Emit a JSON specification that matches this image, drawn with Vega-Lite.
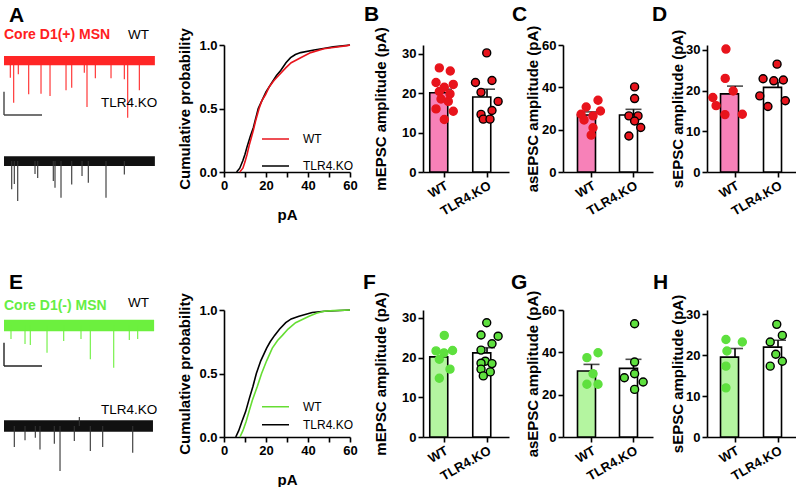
{
"$schema":"https://vega.github.io/schema/vega-lite/v6.json",
"padding":{"left":3,"top":3,"right":0,"bottom":0},
"background":"white",
"config":{
 "view":{"stroke":null},
 "font":"Liberation Sans",
 "axis":{"domainColor":"#000","domainWidth":1.6,"tickColor":"#000","tickWidth":1.6,"tickSize":5,"labelFont":"Liberation Sans","labelFontWeight":"bold","labelFontSize":13,"labelColor":"#000","labelPadding":2,"titleFont":"Liberation Sans","titleFontWeight":"bold","titleFontSize":15,"titleColor":"#000","grid":false},
 "legend":{"labelFont":"Liberation Sans","labelColor":"#000","labelFontSize":12},
 "title":{"font":"Liberation Sans","fontSize":21,"fontWeight":"bold","color":"#000","anchor":"start","frame":"group","baseline":"alphabetic"}
},
"datasets":{
 "bands":[
  {"row":"top","trace":"WT","t0":0,"t1":3.97,"lo":-4,"hi":4},
  {"row":"top","trace":"KO","t0":0,"t1":3.97,"lo":-4.3,"hi":4.3},
  {"row":"bottom","trace":"WT","t0":0,"t1":3.95,"lo":-5,"hi":5},
  {"row":"bottom","trace":"KO","t0":0,"t1":3.92,"lo":-5,"hi":5}
 ],
 "spikes":[
  {"row":"top","trace":"WT","t":0.166,"peak":-15.0},
  {"row":"top","trace":"WT","t":0.255,"peak":-36.7},
  {"row":"top","trace":"WT","t":0.376,"peak":-12.0},
  {"row":"top","trace":"WT","t":0.650,"peak":-29.4},
  {"row":"top","trace":"WT","t":0.974,"peak":-28.9},
  {"row":"top","trace":"WT","t":1.211,"peak":-30.9},
  {"row":"top","trace":"WT","t":1.632,"peak":-25.9},
  {"row":"top","trace":"WT","t":1.782,"peak":-23.7},
  {"row":"top","trace":"WT","t":2.113,"peak":-10.6},
  {"row":"top","trace":"WT","t":2.184,"peak":-40.4},
  {"row":"top","trace":"WT","t":2.403,"peak":-15.5},
  {"row":"top","trace":"WT","t":2.816,"peak":-15.5},
  {"row":"top","trace":"WT","t":3.166,"peak":-16.3},
  {"row":"top","trace":"WT","t":3.255,"peak":-49.7},
  {"row":"top","trace":"WT","t":3.561,"peak":-25.9},
  {"row":"top","trace":"KO","t":0.203,"peak":-24.6},
  {"row":"top","trace":"KO","t":0.271,"peak":-20.0},
  {"row":"top","trace":"KO","t":0.361,"peak":-34.8},
  {"row":"top","trace":"KO","t":0.816,"peak":-11.3},
  {"row":"top","trace":"KO","t":0.887,"peak":-14.8},
  {"row":"top","trace":"KO","t":1.297,"peak":-17.4},
  {"row":"top","trace":"KO","t":1.342,"peak":-23.2},
  {"row":"top","trace":"KO","t":1.500,"peak":-31.9},
  {"row":"top","trace":"KO","t":1.782,"peak":-20.3},
  {"row":"top","trace":"KO","t":2.053,"peak":-13.0},
  {"row":"top","trace":"KO","t":2.218,"peak":-18.9},
  {"row":"top","trace":"KO","t":2.684,"peak":-31.9},
  {"row":"top","trace":"KO","t":3.166,"peak":-11.6},
  {"row":"bottom","trace":"WT","t":0.184,"peak":-11.7},
  {"row":"bottom","trace":"WT","t":0.553,"peak":-16.1},
  {"row":"bottom","trace":"WT","t":0.692,"peak":-17.0},
  {"row":"bottom","trace":"WT","t":1.132,"peak":-23.7},
  {"row":"bottom","trace":"WT","t":1.571,"peak":-13.5},
  {"row":"bottom","trace":"WT","t":2.026,"peak":-11.7},
  {"row":"bottom","trace":"WT","t":2.271,"peak":-29.4},
  {"row":"bottom","trace":"WT","t":2.887,"peak":-36.7},
  {"row":"bottom","trace":"WT","t":3.297,"peak":-12.6},
  {"row":"bottom","trace":"WT","t":3.518,"peak":-11.7},
  {"row":"bottom","trace":"KO","t":0.271,"peak":-18.3},
  {"row":"bottom","trace":"KO","t":0.553,"peak":-12.4},
  {"row":"bottom","trace":"KO","t":0.824,"peak":-10.2},
  {"row":"bottom","trace":"KO","t":0.947,"peak":-20.3},
  {"row":"bottom","trace":"KO","t":1.324,"peak":-15.4},
  {"row":"bottom","trace":"KO","t":1.474,"peak":-39.1},
  {"row":"bottom","trace":"KO","t":1.850,"peak":-13.0},
  {"row":"bottom","trace":"KO","t":1.982,"peak":7.8},
  {"row":"bottom","trace":"KO","t":2.271,"peak":-21.7},
  {"row":"bottom","trace":"KO","t":2.597,"peak":-18.3},
  {"row":"bottom","trace":"KO","t":3.387,"peak":-23.2}
 ],
 "scalebars":[
  {"row":"top","t0":0,"t1":0,"a":-27.1,"b":-47.4},
  {"row":"top","t0":0,"t1":1,"a":-47.4,"b":-47.4},
  {"row":"bottom","t0":0,"t1":0,"a":-15.0,"b":-35.2},
  {"row":"bottom","t0":0,"t1":1,"a":-35.2,"b":-35.2}
 ],
 "labels":[
  {"row":"top","trace":"WT","kind":"cell","label":"Core D1(+) MSN","t":0,"v":19.1},
  {"row":"top","trace":"WT","kind":"geno","label":"WT","t":3.263,"v":18.4},
  {"row":"top","trace":"KO","kind":"geno","label":"TLR4.KO","t":2.553,"v":47},
  {"row":"bottom","trace":"WT","kind":"cell","label":"Core D1(-) MSN","t":0,"v":13.5},
  {"row":"bottom","trace":"WT","kind":"geno","label":"WT","t":3.263,"v":15.7},
  {"row":"bottom","trace":"KO","kind":"geno","label":"TLR4.KO","t":2.553,"v":10.4}
 ],
 "cdf":[
  {"row":"top","group":"TLR4.KO","pA":6,"p":0},
  {"row":"top","group":"TLR4.KO","pA":7.5,"p":0.03},
  {"row":"top","group":"TLR4.KO","pA":9,"p":0.09},
  {"row":"top","group":"TLR4.KO","pA":10,"p":0.14},
  {"row":"top","group":"TLR4.KO","pA":11,"p":0.2},
  {"row":"top","group":"TLR4.KO","pA":12.5,"p":0.28},
  {"row":"top","group":"TLR4.KO","pA":14,"p":0.35},
  {"row":"top","group":"TLR4.KO","pA":16.3,"p":0.5},
  {"row":"top","group":"TLR4.KO","pA":18,"p":0.56},
  {"row":"top","group":"TLR4.KO","pA":20,"p":0.63},
  {"row":"top","group":"TLR4.KO","pA":23,"p":0.71},
  {"row":"top","group":"TLR4.KO","pA":25,"p":0.76},
  {"row":"top","group":"TLR4.KO","pA":27,"p":0.8},
  {"row":"top","group":"TLR4.KO","pA":29.5,"p":0.86},
  {"row":"top","group":"TLR4.KO","pA":31.7,"p":0.9},
  {"row":"top","group":"TLR4.KO","pA":34,"p":0.925},
  {"row":"top","group":"TLR4.KO","pA":36.5,"p":0.94},
  {"row":"top","group":"TLR4.KO","pA":42.9,"p":0.96},
  {"row":"top","group":"TLR4.KO","pA":48,"p":0.975},
  {"row":"top","group":"TLR4.KO","pA":52,"p":0.985},
  {"row":"top","group":"TLR4.KO","pA":60,"p":1.0},
  {"row":"top","group":"WT","pA":7.5,"p":0},
  {"row":"top","group":"WT","pA":9,"p":0.03},
  {"row":"top","group":"WT","pA":10,"p":0.08},
  {"row":"top","group":"WT","pA":11,"p":0.14},
  {"row":"top","group":"WT","pA":12,"p":0.21},
  {"row":"top","group":"WT","pA":13,"p":0.27},
  {"row":"top","group":"WT","pA":14,"p":0.33},
  {"row":"top","group":"WT","pA":15,"p":0.4},
  {"row":"top","group":"WT","pA":16.7,"p":0.5},
  {"row":"top","group":"WT","pA":18,"p":0.56},
  {"row":"top","group":"WT","pA":19.8,"p":0.61},
  {"row":"top","group":"WT","pA":21.5,"p":0.67},
  {"row":"top","group":"WT","pA":23.8,"p":0.72},
  {"row":"top","group":"WT","pA":26,"p":0.76},
  {"row":"top","group":"WT","pA":29.4,"p":0.82},
  {"row":"top","group":"WT","pA":32,"p":0.86},
  {"row":"top","group":"WT","pA":36.5,"p":0.9},
  {"row":"top","group":"WT","pA":41.3,"p":0.94},
  {"row":"top","group":"WT","pA":47.6,"p":0.97},
  {"row":"top","group":"WT","pA":52,"p":0.98},
  {"row":"top","group":"WT","pA":58.7,"p":0.995},
  {"row":"top","group":"WT","pA":60,"p":1.0},
  {"row":"bottom","group":"TLR4.KO","pA":5.6,"p":0},
  {"row":"bottom","group":"TLR4.KO","pA":7,"p":0.05},
  {"row":"bottom","group":"TLR4.KO","pA":8.5,"p":0.12},
  {"row":"bottom","group":"TLR4.KO","pA":10.3,"p":0.2},
  {"row":"bottom","group":"TLR4.KO","pA":12,"p":0.3},
  {"row":"bottom","group":"TLR4.KO","pA":13.8,"p":0.4},
  {"row":"bottom","group":"TLR4.KO","pA":15.4,"p":0.5},
  {"row":"bottom","group":"TLR4.KO","pA":17.5,"p":0.6},
  {"row":"bottom","group":"TLR4.KO","pA":20.3,"p":0.7},
  {"row":"bottom","group":"TLR4.KO","pA":22,"p":0.75},
  {"row":"bottom","group":"TLR4.KO","pA":24.1,"p":0.8},
  {"row":"bottom","group":"TLR4.KO","pA":26.5,"p":0.85},
  {"row":"bottom","group":"TLR4.KO","pA":29.4,"p":0.9},
  {"row":"bottom","group":"TLR4.KO","pA":32,"p":0.93},
  {"row":"bottom","group":"TLR4.KO","pA":35.7,"p":0.95},
  {"row":"bottom","group":"TLR4.KO","pA":42,"p":0.98},
  {"row":"bottom","group":"TLR4.KO","pA":48,"p":0.99},
  {"row":"bottom","group":"TLR4.KO","pA":60,"p":1.0},
  {"row":"bottom","group":"WT","pA":7.6,"p":0},
  {"row":"bottom","group":"WT","pA":9,"p":0.05},
  {"row":"bottom","group":"WT","pA":10.5,"p":0.12},
  {"row":"bottom","group":"WT","pA":11.9,"p":0.2},
  {"row":"bottom","group":"WT","pA":13.5,"p":0.29},
  {"row":"bottom","group":"WT","pA":15.9,"p":0.4},
  {"row":"bottom","group":"WT","pA":17.9,"p":0.5},
  {"row":"bottom","group":"WT","pA":20.3,"p":0.6},
  {"row":"bottom","group":"WT","pA":23,"p":0.7},
  {"row":"bottom","group":"WT","pA":25.5,"p":0.76},
  {"row":"bottom","group":"WT","pA":27.8,"p":0.8},
  {"row":"bottom","group":"WT","pA":30.5,"p":0.85},
  {"row":"bottom","group":"WT","pA":34.1,"p":0.9},
  {"row":"bottom","group":"WT","pA":40.5,"p":0.95},
  {"row":"bottom","group":"WT","pA":44,"p":0.975},
  {"row":"bottom","group":"WT","pA":47.6,"p":0.99},
  {"row":"bottom","group":"WT","pA":52,"p":0.995},
  {"row":"bottom","group":"WT","pA":60,"p":1.0}
 ],
 "bars":[
  {"panel":"B","group":"WT","mean":20.1,"hi":21.0},
  {"panel":"B","group":"TLR4.KO","mean":19.0,"hi":21.0},
  {"panel":"C","group":"WT","mean":26.9,"hi":28.4},
  {"panel":"C","group":"TLR4.KO","mean":26.9,"hi":29.6},
  {"panel":"D","group":"WT","mean":19.2,"hi":21.1},
  {"panel":"D","group":"TLR4.KO","mean":20.8,"hi":22.0},
  {"panel":"F","group":"WT","mean":20.2,"hi":21.5},
  {"panel":"F","group":"TLR4.KO","mean":21.2,"hi":22.5},
  {"panel":"G","group":"WT","mean":31.2,"hi":34.3},
  {"panel":"G","group":"TLR4.KO","mean":32.4,"hi":36.7},
  {"panel":"H","group":"WT","mean":19.5,"hi":21.6},
  {"panel":"H","group":"TLR4.KO","mean":21.95,"hi":23.6}
 ],
 "dots":[
  {"panel":"B","group":"WT","j":-0.33,"amp":26.4},
  {"panel":"B","group":"WT","j":0.44,"amp":25.6},
  {"panel":"B","group":"WT","j":-0.56,"amp":22.7},
  {"panel":"B","group":"WT","j":0.65,"amp":22.2},
  {"panel":"B","group":"WT","j":0.02,"amp":21.5},
  {"panel":"B","group":"WT","j":-0.33,"amp":20.4},
  {"panel":"B","group":"WT","j":0.42,"amp":19.8},
  {"panel":"B","group":"WT","j":-0.21,"amp":18.5},
  {"panel":"B","group":"WT","j":0.3,"amp":17.9},
  {"panel":"B","group":"WT","j":-0.56,"amp":16.0},
  {"panel":"B","group":"WT","j":0.65,"amp":15.4},
  {"panel":"B","group":"WT","j":0.02,"amp":13.3},
  {"panel":"B","group":"TLR4.KO","j":-0.02,"amp":30.2},
  {"panel":"B","group":"TLR4.KO","j":-0.81,"amp":22.7},
  {"panel":"B","group":"TLR4.KO","j":0.35,"amp":23.2},
  {"panel":"B","group":"TLR4.KO","j":-0.42,"amp":20.2},
  {"panel":"B","group":"TLR4.KO","j":0.78,"amp":17.9},
  {"panel":"B","group":"TLR4.KO","j":-0.42,"amp":14.6},
  {"panel":"B","group":"TLR4.KO","j":0.35,"amp":15.6},
  {"panel":"B","group":"TLR4.KO","j":-0.26,"amp":13.4},
  {"panel":"B","group":"TLR4.KO","j":0.21,"amp":13.4},
  {"panel":"C","group":"WT","j":0.44,"amp":33.9},
  {"panel":"C","group":"WT","j":-0.39,"amp":30.7},
  {"panel":"C","group":"WT","j":0.61,"amp":28.8},
  {"panel":"C","group":"WT","j":-0.75,"amp":27.3},
  {"panel":"C","group":"WT","j":0.09,"amp":26.5},
  {"panel":"C","group":"WT","j":-0.54,"amp":24.6},
  {"panel":"C","group":"WT","j":0.09,"amp":20.9},
  {"panel":"C","group":"WT","j":-0.04,"amp":17.4},
  {"panel":"C","group":"TLR4.KO","j":0.06,"amp":40.2},
  {"panel":"C","group":"TLR4.KO","j":0.06,"amp":34.7},
  {"panel":"C","group":"TLR4.KO","j":-0.34,"amp":26.5},
  {"panel":"C","group":"TLR4.KO","j":0.3,"amp":26.5},
  {"panel":"C","group":"TLR4.KO","j":0.06,"amp":24.1},
  {"panel":"C","group":"TLR4.KO","j":0.49,"amp":21.0},
  {"panel":"C","group":"TLR4.KO","j":-0.34,"amp":17.0},
  {"panel":"D","group":"WT","j":-0.62,"amp":30.2},
  {"panel":"D","group":"WT","j":-0.67,"amp":23.0},
  {"panel":"D","group":"WT","j":-1.54,"amp":18.3},
  {"panel":"D","group":"WT","j":-0.11,"amp":19.9},
  {"panel":"D","group":"WT","j":-1.31,"amp":16.3},
  {"panel":"D","group":"WT","j":-0.69,"amp":14.1},
  {"panel":"D","group":"WT","j":0.53,"amp":14.2},
  {"panel":"D","group":"TLR4.KO","j":-0.05,"amp":26.5},
  {"panel":"D","group":"TLR4.KO","j":-1.03,"amp":22.9},
  {"panel":"D","group":"TLR4.KO","j":-0.28,"amp":22.4},
  {"panel":"D","group":"TLR4.KO","j":0.39,"amp":22.6},
  {"panel":"D","group":"TLR4.KO","j":-1.26,"amp":18.7},
  {"panel":"D","group":"TLR4.KO","j":0.53,"amp":17.5},
  {"panel":"D","group":"TLR4.KO","j":-0.69,"amp":16.1},
  {"panel":"F","group":"WT","j":0.02,"amp":25.6},
  {"panel":"F","group":"WT","j":-0.56,"amp":21.7},
  {"panel":"F","group":"WT","j":0.6,"amp":21.8},
  {"panel":"F","group":"WT","j":0.0,"amp":21.2},
  {"panel":"F","group":"WT","j":-0.33,"amp":19.6},
  {"panel":"F","group":"WT","j":0.42,"amp":17.1},
  {"panel":"F","group":"WT","j":-0.33,"amp":14.8},
  {"panel":"F","group":"TLR4.KO","j":-0.02,"amp":28.8},
  {"panel":"F","group":"TLR4.KO","j":-0.42,"amp":25.7},
  {"panel":"F","group":"TLR4.KO","j":0.78,"amp":25.4},
  {"panel":"F","group":"TLR4.KO","j":0.35,"amp":23.5},
  {"panel":"F","group":"TLR4.KO","j":-0.42,"amp":21.9},
  {"panel":"F","group":"TLR4.KO","j":-0.12,"amp":19.1},
  {"panel":"F","group":"TLR4.KO","j":-0.42,"amp":18.6},
  {"panel":"F","group":"TLR4.KO","j":0.35,"amp":18.5},
  {"panel":"F","group":"TLR4.KO","j":-0.42,"amp":17.1},
  {"panel":"F","group":"TLR4.KO","j":0.23,"amp":16.4},
  {"panel":"F","group":"TLR4.KO","j":-0.26,"amp":15.4},
  {"panel":"G","group":"WT","j":-0.34,"amp":37.5},
  {"panel":"G","group":"WT","j":0.44,"amp":39.8},
  {"panel":"G","group":"WT","j":0.09,"amp":29.9},
  {"panel":"G","group":"WT","j":-0.34,"amp":24.9},
  {"panel":"G","group":"WT","j":0.44,"amp":24.9},
  {"panel":"G","group":"TLR4.KO","j":0.06,"amp":53.5},
  {"panel":"G","group":"TLR4.KO","j":0.06,"amp":35.4},
  {"panel":"G","group":"TLR4.KO","j":-0.66,"amp":28.0},
  {"panel":"G","group":"TLR4.KO","j":0.06,"amp":29.9},
  {"panel":"G","group":"TLR4.KO","j":0.66,"amp":26.0},
  {"panel":"G","group":"TLR4.KO","j":0.06,"amp":22.5},
  {"panel":"H","group":"WT","j":-0.62,"amp":23.8},
  {"panel":"H","group":"WT","j":0.53,"amp":23.2},
  {"panel":"H","group":"WT","j":-0.55,"amp":21.0},
  {"panel":"H","group":"WT","j":-0.62,"amp":17.3},
  {"panel":"H","group":"WT","j":-0.62,"amp":12.0},
  {"panel":"H","group":"TLR4.KO","j":-0.07,"amp":27.5},
  {"panel":"H","group":"TLR4.KO","j":0.32,"amp":24.8},
  {"panel":"H","group":"TLR4.KO","j":-0.53,"amp":23.2},
  {"panel":"H","group":"TLR4.KO","j":-0.14,"amp":20.2},
  {"panel":"H","group":"TLR4.KO","j":0.32,"amp":18.5},
  {"panel":"H","group":"TLR4.KO","j":-0.53,"amp":17.3}
 ]
},
"spacing":265,
"bounds":"flush",
"resolve":{"scale":{"color":"independent","stroke":"independent"}},
"vconcat":[
 {"spacing":73,"bounds":"flush","resolve":{"scale":{"color":"independent","stroke":"independent"}},
  "hconcat":[
   {"width":147,"height":127,
    "title":{"text":"A","dx":5,"offset":1.5},
    "resolve":{"scale":{"y":"independent"}},
    "layer":[
     {"layer":[
       {"data":{"name":"bands"},"transform":[{"filter":"datum.row==='top' && datum.trace==='WT'"}],
        "mark":{"type":"rect","color":"#ff2626"},
        "encoding":{"x":{"field":"t0","type":"quantitative","scale":{"domain":[0,3.868],"nice":false},"axis":null},"x2":{"field":"t1"},
                    "y":{"field":"lo","type":"quantitative","scale":{"domain":[-96.9,13.5],"nice":false},"axis":null},"y2":{"field":"hi"}}},
       {"data":{"name":"spikes"},"transform":[{"filter":"datum.row==='top' && datum.trace==='WT'"}],
        "mark":{"type":"rule","color":"#ff2626","strokeWidth":1.1},
        "encoding":{"x":{"field":"t","type":"quantitative"},"y":{"field":"peak","type":"quantitative"},"y2":{"datum":0}}},
       {"data":{"name":"scalebars"},"transform":[{"filter":"datum.row==='top'"}],
        "mark":{"type":"rule","color":"#444","strokeWidth":1.4},
        "encoding":{"x":{"field":"t0","type":"quantitative"},"x2":{"field":"t1"},"y":{"field":"a","type":"quantitative"},"y2":{"field":"b"}}},
       {"data":{"name":"labels"},"transform":[{"filter":"datum.row==='top' && datum.trace==='WT' && datum.kind==='cell'"}],
        "mark":{"type":"text","align":"left","baseline":"alphabetic","fontSize":14,"fontWeight":"bold","color":"#ff2020"},
        "encoding":{"x":{"field":"t","type":"quantitative"},"y":{"field":"v","type":"quantitative"},"text":{"field":"label"}}},
       {"data":{"name":"labels"},"transform":[{"filter":"datum.row==='top' && datum.trace==='WT' && datum.kind==='geno'"}],
        "mark":{"type":"text","align":"left","baseline":"alphabetic","fontSize":13.5,"color":"#000"},
        "encoding":{"x":{"field":"t","type":"quantitative"},"y":{"field":"v","type":"quantitative"},"text":{"field":"label"}}}
     ]},
     {"layer":[
       {"data":{"name":"bands"},"transform":[{"filter":"datum.row==='top' && datum.trace==='KO'"}],
        "mark":{"type":"rect","color":"#111"},
        "encoding":{"x":{"field":"t0","type":"quantitative","scale":{"domain":[0,3.868],"nice":false},"axis":null},"x2":{"field":"t1"},
                    "y":{"field":"lo","type":"quantitative","scale":{"domain":[-9.5,100.9],"nice":false},"axis":null},"y2":{"field":"hi"}}},
       {"data":{"name":"spikes"},"transform":[{"filter":"datum.row==='top' && datum.trace==='KO'"}],
        "mark":{"type":"rule","color":"#333","strokeWidth":1.1},
        "encoding":{"x":{"field":"t","type":"quantitative"},"y":{"field":"peak","type":"quantitative"},"y2":{"datum":0}}},
       {"data":{"name":"labels"},"transform":[{"filter":"datum.row==='top' && datum.trace==='KO'"}],
        "mark":{"type":"text","align":"left","baseline":"alphabetic","fontSize":13.5,"color":"#000"},
        "encoding":{"x":{"field":"t","type":"quantitative"},"y":{"field":"v","type":"quantitative"},"text":{"field":"label"}}}
     ]}
    ]},
   {"width":126,"height":127,
    "data":{"name":"cdf"},"transform":[{"filter":"datum.row==='top'"}],
    "mark":{"type":"line","strokeWidth":1.6},
    "encoding":{
     "x":{"field":"pA","type":"quantitative","scale":{"domain":[0,60],"nice":false},"axis":{"values":[0,10,20,30,40,50,60],"labelExpr":"datum.value % 20 === 0 ? datum.label : ''","labelOverlap":false,"labelFlush":false,"title":"pA","titlePadding":15}},
     "y":{"field":"p","type":"quantitative","scale":{"domain":[0,1],"nice":false},"axis":{"values":[0,0.5,1],"format":".1f","title":"Cumulative probability","titlePadding":6}},
     "color":{"field":"group","type":"nominal","scale":{"domain":["WT","TLR4.KO"],"range":["#e8141c","#000000"]},
              "legend":{"orient":"none","legendX":37,"legendY":80.5,"title":null,"symbolType":"stroke","symbolSize":729,"symbolStrokeWidth":1.6,"labelFontSize":12,"labelOffset":13,"rowPadding":0,"clipHeight":27}}
    }},
   {"spacing":54,"bounds":"flush","resolve":{"scale":{"color":"independent","stroke":"independent"}},
    "hconcat":[
     {"width":86,"height":127,"title":{"text":"B","dx":-59,"offset":-0.2},
      "layer":[
       {"data":{"name":"bars"},"transform":[{"filter":"datum.panel==='B'"}],
        "mark":{"type":"bar","stroke":"#000","strokeWidth":1.6},
        "encoding":{
         "x":{"field":"group","type":"nominal","sort":["WT","TLR4.KO"],"scale":{"paddingInner":0.337,"paddingOuter":0.1685,"align":0.466},"axis":{"title":null,"labelAngle":-30}},
         "y":{"field":"mean","type":"quantitative","scale":{"domain":[0,32.2],"nice":false},"axis":{"values":[0,10,20,30],"title":"mEPSC amplitude  (pA)","titlePadding":13}},
         "color":{"field":"group","type":"nominal","scale":{"domain":["WT","TLR4.KO"],"range":["#f781b8","#ffffff"]},"legend":null}}},
       {"data":{"name":"bars"},"transform":[{"filter":"datum.panel==='B'"}],
        "mark":{"type":"rule","color":"#000","strokeWidth":1.6},
        "encoding":{"x":{"field":"group","type":"nominal","sort":["WT","TLR4.KO"]},"y":{"field":"mean","type":"quantitative"},"y2":{"field":"hi"}}},
       {"data":{"name":"bars"},"transform":[{"filter":"datum.panel==='B'"}],
        "mark":{"type":"tick","color":"#000","thickness":1.6,"size":16},
        "encoding":{"x":{"field":"group","type":"nominal","sort":["WT","TLR4.KO"]},"y":{"field":"hi","type":"quantitative"}}},
       {"data":{"name":"dots"},"transform":[{"filter":"datum.panel==='B'"}],
        "mark":{"type":"circle","size":64,"opacity":1,"fill":"#e8141c","strokeWidth":1.4},
        "encoding":{"x":{"field":"group","type":"nominal","sort":["WT","TLR4.KO"]},"xOffset":{"field":"j","type":"quantitative","scale":{"domain":[-1,1]}},"y":{"field":"amp","type":"quantitative"},
         "stroke":{"field":"group","type":"nominal","scale":{"domain":["WT","TLR4.KO"],"range":["#e8141c","#000000"]},"legend":null}}}
      ]},
     {"width":90,"height":127,"title":{"text":"C","dx":-51,"offset":-1.8},
      "layer":[
       {"data":{"name":"bars"},"transform":[{"filter":"datum.panel==='C'"}],
        "mark":{"type":"bar","stroke":"#000","strokeWidth":1.6},
        "encoding":{
         "x":{"field":"group","type":"nominal","sort":["WT","TLR4.KO"],"scale":{"paddingInner":0.333,"paddingOuter":0.238,"align":0.725},"axis":{"title":null,"labelAngle":-30}},
         "y":{"field":"mean","type":"quantitative","scale":{"domain":[0,60],"nice":false},"axis":{"values":[0,20,40,60],"title":"asEPSC amplitude  (pA)","titlePadding":1}},
         "color":{"field":"group","type":"nominal","scale":{"domain":["WT","TLR4.KO"],"range":["#f781b8","#ffffff"]},"legend":null}}},
       {"data":{"name":"bars"},"transform":[{"filter":"datum.panel==='C'"}],
        "mark":{"type":"rule","color":"#000","strokeWidth":1.6},
        "encoding":{"x":{"field":"group","type":"nominal","sort":["WT","TLR4.KO"]},"y":{"field":"mean","type":"quantitative"},"y2":{"field":"hi"}}},
       {"data":{"name":"bars"},"transform":[{"filter":"datum.panel==='C'"}],
        "mark":{"type":"tick","color":"#000","thickness":1.6,"size":16},
        "encoding":{"x":{"field":"group","type":"nominal","sort":["WT","TLR4.KO"]},"y":{"field":"hi","type":"quantitative"}}},
       {"data":{"name":"dots"},"transform":[{"filter":"datum.panel==='C'"}],
        "mark":{"type":"circle","size":64,"opacity":1,"fill":"#e8141c","strokeWidth":1.4},
        "encoding":{"x":{"field":"group","type":"nominal","sort":["WT","TLR4.KO"]},"xOffset":{"field":"j","type":"quantitative","scale":{"domain":[-1,1]}},"y":{"field":"amp","type":"quantitative"},
         "stroke":{"field":"group","type":"nominal","scale":{"domain":["WT","TLR4.KO"],"range":["#e8141c","#000000"]},"legend":null}}}
      ]},
     {"width":89,"height":127,"title":{"text":"D","dx":-55,"offset":4.4},
      "layer":[
       {"data":{"name":"bars"},"transform":[{"filter":"datum.panel==='D'"}],
        "mark":{"type":"bar","stroke":"#000","strokeWidth":1.6},
        "encoding":{
         "x":{"field":"group","type":"nominal","sort":["WT","TLR4.KO"],"scale":{"paddingInner":0.326,"paddingOuter":0.198,"align":0.794},"axis":{"title":null,"labelAngle":-30}},
         "y":{"field":"mean","type":"quantitative","scale":{"domain":[0,31.2],"nice":false},"axis":{"values":[0,10,20,30],"title":"sEPSC amplitude (pA)","titlePadding":0}},
         "color":{"field":"group","type":"nominal","scale":{"domain":["WT","TLR4.KO"],"range":["#f781b8","#ffffff"]},"legend":null}}},
       {"data":{"name":"bars"},"transform":[{"filter":"datum.panel==='D'"}],
        "mark":{"type":"rule","color":"#000","strokeWidth":1.6},
        "encoding":{"x":{"field":"group","type":"nominal","sort":["WT","TLR4.KO"]},"y":{"field":"mean","type":"quantitative"},"y2":{"field":"hi"}}},
       {"data":{"name":"bars"},"transform":[{"filter":"datum.panel==='D'"}],
        "mark":{"type":"tick","color":"#000","thickness":1.6,"size":16},
        "encoding":{"x":{"field":"group","type":"nominal","sort":["WT","TLR4.KO"]},"y":{"field":"hi","type":"quantitative"}}},
       {"data":{"name":"dots"},"transform":[{"filter":"datum.panel==='D'"}],
        "mark":{"type":"circle","size":64,"opacity":1,"fill":"#e8141c","strokeWidth":1.4},
        "encoding":{"x":{"field":"group","type":"nominal","sort":["WT","TLR4.KO"]},"xOffset":{"field":"j","type":"quantitative","scale":{"domain":[-1,1]}},"y":{"field":"amp","type":"quantitative"},
         "stroke":{"field":"group","type":"nominal","scale":{"domain":["WT","TLR4.KO"],"range":["#e8141c","#000000"]},"legend":null}}}
      ]}
    ]}
  ]},
 {"spacing":73,"bounds":"flush","resolve":{"scale":{"color":"independent","stroke":"independent"}},
  "hconcat":[
   {"width":147,"height":127,
    "title":{"text":"E","dx":5,"offset":3.5},
    "resolve":{"scale":{"y":"independent"}},
    "layer":[
     {"layer":[
       {"data":{"name":"bands"},"transform":[{"filter":"datum.row==='bottom' && datum.trace==='WT'"}],
        "mark":{"type":"rect","color":"#6cf03e"},
        "encoding":{"x":{"field":"t0","type":"quantitative","scale":{"domain":[0,3.868],"nice":false},"axis":null},"x2":{"field":"t1"},
                    "y":{"field":"lo","type":"quantitative","scale":{"domain":[-96.9,13.5],"nice":false},"axis":null},"y2":{"field":"hi"}}},
       {"data":{"name":"spikes"},"transform":[{"filter":"datum.row==='bottom' && datum.trace==='WT'"}],
        "mark":{"type":"rule","color":"#6cf03e","strokeWidth":1.1},
        "encoding":{"x":{"field":"t","type":"quantitative"},"y":{"field":"peak","type":"quantitative"},"y2":{"datum":0}}},
       {"data":{"name":"scalebars"},"transform":[{"filter":"datum.row==='bottom'"}],
        "mark":{"type":"rule","color":"#222","strokeWidth":1.4},
        "encoding":{"x":{"field":"t0","type":"quantitative"},"x2":{"field":"t1"},"y":{"field":"a","type":"quantitative"},"y2":{"field":"b"}}},
       {"data":{"name":"labels"},"transform":[{"filter":"datum.row==='bottom' && datum.trace==='WT' && datum.kind==='cell'"}],
        "mark":{"type":"text","align":"left","baseline":"alphabetic","fontSize":14,"fontWeight":"bold","color":"#66ee44"},
        "encoding":{"x":{"field":"t","type":"quantitative"},"y":{"field":"v","type":"quantitative"},"text":{"field":"label"}}},
       {"data":{"name":"labels"},"transform":[{"filter":"datum.row==='bottom' && datum.trace==='WT' && datum.kind==='geno'"}],
        "mark":{"type":"text","align":"left","baseline":"alphabetic","fontSize":13.5,"color":"#000"},
        "encoding":{"x":{"field":"t","type":"quantitative"},"y":{"field":"v","type":"quantitative"},"text":{"field":"label"}}}
     ]},
     {"layer":[
       {"data":{"name":"bands"},"transform":[{"filter":"datum.row==='bottom' && datum.trace==='KO'"}],
        "mark":{"type":"rect","color":"#111"},
        "encoding":{"x":{"field":"t0","type":"quantitative","scale":{"domain":[0,3.868],"nice":false},"axis":null},"x2":{"field":"t1"},
                    "y":{"field":"lo","type":"quantitative","scale":{"domain":[-9.5,100.9],"nice":false},"axis":null},"y2":{"field":"hi"}}},
       {"data":{"name":"spikes"},"transform":[{"filter":"datum.row==='bottom' && datum.trace==='KO'"}],
        "mark":{"type":"rule","color":"#333","strokeWidth":1.1},
        "encoding":{"x":{"field":"t","type":"quantitative"},"y":{"field":"peak","type":"quantitative"},"y2":{"datum":0}}},
       {"data":{"name":"labels"},"transform":[{"filter":"datum.row==='bottom' && datum.trace==='KO'"}],
        "mark":{"type":"text","align":"left","baseline":"alphabetic","fontSize":13.5,"color":"#000"},
        "encoding":{"x":{"field":"t","type":"quantitative"},"y":{"field":"v","type":"quantitative"},"text":{"field":"label"}}}
     ]}
    ]},
   {"width":126,"height":127,
    "data":{"name":"cdf"},"transform":[{"filter":"datum.row==='bottom'"}],
    "mark":{"type":"line","strokeWidth":1.6},
    "encoding":{
     "x":{"field":"pA","type":"quantitative","scale":{"domain":[0,60],"nice":false},"axis":{"values":[0,10,20,30,40,50,60],"labelExpr":"datum.value % 20 === 0 ? datum.label : ''","labelOverlap":false,"labelFlush":false,"title":"pA","titlePadding":15}},
     "y":{"field":"p","type":"quantitative","scale":{"domain":[0,1],"nice":false},"axis":{"values":[0,0.5,1],"format":".1f","title":"Cumulative probability","titlePadding":6}},
     "color":{"field":"group","type":"nominal","scale":{"domain":["WT","TLR4.KO"],"range":["#66dd33","#000000"]},
              "legend":{"orient":"none","legendX":37,"legendY":87.9,"title":null,"symbolType":"stroke","symbolSize":729,"symbolStrokeWidth":1.6,"labelFontSize":12,"labelOffset":13,"rowPadding":0,"clipHeight":17.6}}
    }},
   {"spacing":54,"bounds":"flush","resolve":{"scale":{"color":"independent","stroke":"independent"}},
    "hconcat":[
     {"width":86,"height":127,"title":{"text":"F","dx":-60,"offset":-3.7},
      "layer":[
       {"data":{"name":"bars"},"transform":[{"filter":"datum.panel==='F'"}],
        "mark":{"type":"bar","stroke":"#000","strokeWidth":1.6},
        "encoding":{
         "x":{"field":"group","type":"nominal","sort":["WT","TLR4.KO"],"scale":{"paddingInner":0.337,"paddingOuter":0.1685,"align":0.466},"axis":{"title":null,"labelAngle":-30}},
         "y":{"field":"mean","type":"quantitative","scale":{"domain":[0,32.0],"nice":false},"axis":{"values":[0,10,20,30],"title":"mEPSC amplitude  (pA)","titlePadding":13}},
         "color":{"field":"group","type":"nominal","scale":{"domain":["WT","TLR4.KO"],"range":["#b4f5a0","#ffffff"]},"legend":null}}},
       {"data":{"name":"bars"},"transform":[{"filter":"datum.panel==='F'"}],
        "mark":{"type":"rule","color":"#000","strokeWidth":1.6},
        "encoding":{"x":{"field":"group","type":"nominal","sort":["WT","TLR4.KO"]},"y":{"field":"mean","type":"quantitative"},"y2":{"field":"hi"}}},
       {"data":{"name":"bars"},"transform":[{"filter":"datum.panel==='F'"}],
        "mark":{"type":"tick","color":"#000","thickness":1.6,"size":16},
        "encoding":{"x":{"field":"group","type":"nominal","sort":["WT","TLR4.KO"]},"y":{"field":"hi","type":"quantitative"}}},
       {"data":{"name":"dots"},"transform":[{"filter":"datum.panel==='F'"}],
        "mark":{"type":"circle","size":64,"opacity":1,"fill":"#5ee03e","strokeWidth":1.4},
        "encoding":{"x":{"field":"group","type":"nominal","sort":["WT","TLR4.KO"]},"xOffset":{"field":"j","type":"quantitative","scale":{"domain":[-1,1]}},"y":{"field":"amp","type":"quantitative"},
         "stroke":{"field":"group","type":"nominal","scale":{"domain":["WT","TLR4.KO"],"range":["#5ee03e","#000000"]},"legend":null}}}
      ]},
     {"width":90,"height":127,"title":{"text":"G","dx":-52,"offset":-5.3},
      "layer":[
       {"data":{"name":"bars"},"transform":[{"filter":"datum.panel==='G'"}],
        "mark":{"type":"bar","stroke":"#000","strokeWidth":1.6},
        "encoding":{
         "x":{"field":"group","type":"nominal","sort":["WT","TLR4.KO"],"scale":{"paddingInner":0.333,"paddingOuter":0.238,"align":0.725},"axis":{"title":null,"labelAngle":-30}},
         "y":{"field":"mean","type":"quantitative","scale":{"domain":[0,60],"nice":false},"axis":{"values":[0,20,40,60],"title":"asEPSC amplitude  (pA)","titlePadding":1}},
         "color":{"field":"group","type":"nominal","scale":{"domain":["WT","TLR4.KO"],"range":["#b4f5a0","#ffffff"]},"legend":null}}},
       {"data":{"name":"bars"},"transform":[{"filter":"datum.panel==='G'"}],
        "mark":{"type":"rule","color":"#000","strokeWidth":1.6},
        "encoding":{"x":{"field":"group","type":"nominal","sort":["WT","TLR4.KO"]},"y":{"field":"mean","type":"quantitative"},"y2":{"field":"hi"}}},
       {"data":{"name":"bars"},"transform":[{"filter":"datum.panel==='G'"}],
        "mark":{"type":"tick","color":"#000","thickness":1.6,"size":16},
        "encoding":{"x":{"field":"group","type":"nominal","sort":["WT","TLR4.KO"]},"y":{"field":"hi","type":"quantitative"}}},
       {"data":{"name":"dots"},"transform":[{"filter":"datum.panel==='G'"}],
        "mark":{"type":"circle","size":64,"opacity":1,"fill":"#5ee03e","strokeWidth":1.4},
        "encoding":{"x":{"field":"group","type":"nominal","sort":["WT","TLR4.KO"]},"xOffset":{"field":"j","type":"quantitative","scale":{"domain":[-1,1]}},"y":{"field":"amp","type":"quantitative"},
         "stroke":{"field":"group","type":"nominal","scale":{"domain":["WT","TLR4.KO"],"range":["#5ee03e","#000000"]},"legend":null}}}
      ]},
     {"width":89,"height":127,"title":{"text":"H","dx":-54,"offset":0.9},
      "layer":[
       {"data":{"name":"bars"},"transform":[{"filter":"datum.panel==='H'"}],
        "mark":{"type":"bar","stroke":"#000","strokeWidth":1.6},
        "encoding":{
         "x":{"field":"group","type":"nominal","sort":["WT","TLR4.KO"],"scale":{"paddingInner":0.326,"paddingOuter":0.198,"align":0.794},"axis":{"title":null,"labelAngle":-30}},
         "y":{"field":"mean","type":"quantitative","scale":{"domain":[0,31.0],"nice":false},"axis":{"values":[0,10,20,30],"title":"sEPSC amplitude (pA)","titlePadding":0}},
         "color":{"field":"group","type":"nominal","scale":{"domain":["WT","TLR4.KO"],"range":["#b4f5a0","#ffffff"]},"legend":null}}},
       {"data":{"name":"bars"},"transform":[{"filter":"datum.panel==='H'"}],
        "mark":{"type":"rule","color":"#000","strokeWidth":1.6},
        "encoding":{"x":{"field":"group","type":"nominal","sort":["WT","TLR4.KO"]},"y":{"field":"mean","type":"quantitative"},"y2":{"field":"hi"}}},
       {"data":{"name":"bars"},"transform":[{"filter":"datum.panel==='H'"}],
        "mark":{"type":"tick","color":"#000","thickness":1.6,"size":16},
        "encoding":{"x":{"field":"group","type":"nominal","sort":["WT","TLR4.KO"]},"y":{"field":"hi","type":"quantitative"}}},
       {"data":{"name":"dots"},"transform":[{"filter":"datum.panel==='H'"}],
        "mark":{"type":"circle","size":64,"opacity":1,"fill":"#5ee03e","strokeWidth":1.4},
        "encoding":{"x":{"field":"group","type":"nominal","sort":["WT","TLR4.KO"]},"xOffset":{"field":"j","type":"quantitative","scale":{"domain":[-1,1]}},"y":{"field":"amp","type":"quantitative"},
         "stroke":{"field":"group","type":"nominal","scale":{"domain":["WT","TLR4.KO"],"range":["#5ee03e","#000000"]},"legend":null}}}
      ]}
    ]}
  ]}
]
}
